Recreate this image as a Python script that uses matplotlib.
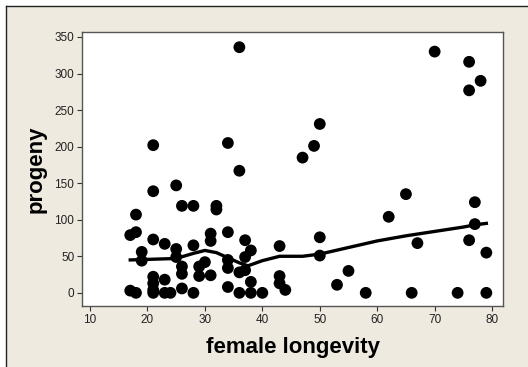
#!/usr/bin/env python3
"""Scatterplot of progeny vs female longevity with a lowess smoother."""

import matplotlib
matplotlib.use("Agg")
import matplotlib.pyplot as plt
from matplotlib.lines import Line2D
from matplotlib.patches import Rectangle

# values
longevity = [17, 18, 17, 18, 18, 19, 19, 21, 21, 21, 21, 21, 21, 21,
             23, 23, 23, 24, 25, 25, 25, 26, 26, 26, 26, 28, 28, 28,
             29, 29, 30, 31, 31, 31, 32, 32, 34, 34, 34, 34, 34,
             36, 36, 36, 36, 37, 37, 37, 38, 38, 38, 40,
             43, 43, 43, 44, 47, 49, 50, 50, 50, 53, 55, 58,
             62, 65, 66, 67, 70, 74, 76, 76, 76, 77, 77, 78, 79, 79]
progeny = [3, 0, 79, 83, 107, 56, 44, 0, 4, 13, 22, 73, 139, 202,
           0, 18, 67, 0, 147, 60, 49, 6, 36, 26, 119, 119, 65, 0,
           36, 23, 42, 24, 81, 71, 119, 114, 83, 205, 45, 34, 8,
           336, 167, 28, 0, 72, 49, 31, 58, 15, 0, 0,
           64, 23, 13, 4, 185, 201, 231, 76, 51, 11, 30, 0,
           104, 135, 0, 68, 330, 0, 316, 277, 72, 124, 94, 290, 55, 0]

# lowess smoother as drawn in the reference
smooth_x = [17, 21, 25, 28, 30, 32, 34, 36, 37.5, 40, 43, 47, 50,
            55, 60, 65, 70, 75, 77, 79]
smooth_y = [45, 46, 47, 54, 58, 55, 48, 41, 37, 44, 50, 50, 53,
            62, 71, 78, 84, 90, 93, 95]

x_ticks = [10, 20, 30, 40, 50, 60, 70, 80]
y_ticks = [0, 50, 100, 150, 200, 250, 300, 350]

BG = "#EEEAE0"

plt.rcParams["font.family"] = ["Liberation Sans", "DejaVu Sans"]

W, H = 528, 367
fig = plt.figure(figsize=(W / 100, H / 100), dpi=100, facecolor="white")

# beige figure region with the dark frame on its left and top edges
fig.add_artist(Rectangle((6 / W, 0), 1 - 6 / W, 1 - 6 / H,
                         transform=fig.transFigure, facecolor=BG,
                         edgecolor="none", zorder=-10))
fig.add_artist(Line2D([6 / W, 6 / W], [0, 1 - 6 / H],
                      transform=fig.transFigure, color="#222222", lw=1))
fig.add_artist(Line2D([6 / W, 1], [1 - 6 / H, 1 - 6 / H],
                      transform=fig.transFigure, color="#222222", lw=1))

ax = fig.add_axes([82 / W, 1 - 306 / H, (503 - 82) / W, (306 - 32) / H])
ax.set_facecolor("white")

ax.scatter(longevity, progeny, s=72, color="black", edgecolors="none",
           zorder=3)
ax.plot(smooth_x, smooth_y, color="black", lw=2.4, zorder=4)

ax.set_xlim(8.6, 81.9)
ax.set_ylim(-18, 356.8)
ax.set_xticks(x_ticks)
ax.set_yticks(y_ticks)
ax.tick_params(direction="out", length=3.5, width=0.8, labelsize=8.5,
               colors="#333333", labelcolor="#222222", pad=2)

for side in ["left", "right", "top", "bottom"]:
    ax.spines[side].set_color("#555555")
    ax.spines[side].set_linewidth(1.0)

ax.set_xlabel("female longevity", fontsize=16, fontweight="bold",
              labelpad=8)
ax.set_ylabel("progeny", fontsize=16, fontweight="bold", labelpad=6)

fig.savefig("out.png", dpi=100, facecolor=fig.get_facecolor())
